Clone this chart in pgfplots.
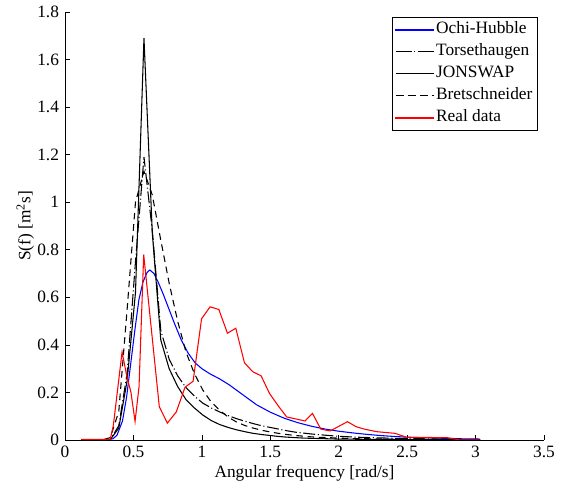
\documentclass[border=0pt]{standalone}
\usepackage{fontspec}
\setmainfont{Liberation Serif}
\usepackage{pgfplots}
\pgfplotsset{compat=1.18}
\begin{document}
\fontsize{13}{15}\selectfont
\begin{tikzpicture}
\begin{axis}[
  name=ax,
  scale only axis, width=359.25pt, height=321pt,
  xmin=0, xmax=3.5, ymin=0, ymax=1.8,
  axis lines=left, axis line style={-, line width=0.5pt},
  tick align=inside, major tick length=3.5pt,
  tick style={line width=0.5pt, black},
  xtick={0,0.5,1,1.5,2,2.5,3,3.5},
  ytick={0,0.2,0.4,0.6,0.8,1,1.2,1.4,1.6,1.8},
  /pgf/number format/assume math mode=true,
  /pgf/number format/fixed, /pgf/number format/precision=1,
  xlabel={Angular frequency [rad/s]},
  ylabel={S(f) [m\textsuperscript{2}s]},
  xlabel style={at={([yshift=-28pt]axis description cs:0.5,0)}, anchor=base, inner sep=0pt},
  ylabel style={at={([xshift=-23pt]axis description cs:0,0.5)}, anchor=south, inner sep=0pt},
  legend style={at={(rel axis cs:1,1)}, anchor=north east, xshift=-5pt, yshift=-3.75pt,
    inner xsep=2pt, inner ysep=1pt, row sep=0pt,
    nodes={inner sep=1.5pt, text height=10pt, text depth=3.5pt}},
  legend cell align=left,
  every axis plot/.append style={line width=0.8pt},
]
% Ochi-Hubble
\addplot[blue, legend image code/.code={\fill[fill=blue] (0pt,-0.28pt) rectangle (28.5pt,0.28pt);}] coordinates {
(0.12,0) (0.30,0) (0.35,0.005) (0.38,0.02) (0.42,0.08) (0.45,0.18) (0.48,0.32) (0.51,0.46)
(0.54,0.59) (0.57,0.665) (0.60,0.705) (0.62,0.715) (0.65,0.70) (0.68,0.665) (0.72,0.61)
(0.76,0.55) (0.80,0.49) (0.85,0.42) (0.90,0.365) (0.95,0.325) (1.00,0.30) (1.06,0.278)
(1.13,0.257) (1.20,0.232) (1.30,0.19) (1.40,0.148) (1.50,0.117) (1.60,0.092) (1.70,0.073)
(1.80,0.058) (1.90,0.046) (2.00,0.037) (2.10,0.030) (2.20,0.024) (2.30,0.019) (2.40,0.015)
(2.50,0.012) (2.60,0.010) (2.70,0.008) (2.80,0.007) (2.90,0.005) (3.03,0.004)};
\addlegendentry{Ochi-Hubble}
% Torsethaugen
\addplot[black, dash pattern=on 9pt off 2pt on 0.8pt off 2pt, legend image code/.code={\draw[black, line width=0.8pt, dash pattern=on 12pt off 2pt on 0.8pt off 2pt] (0pt,0pt) -- (28.5pt,0pt);}] coordinates {
(0.12,0) (0.27,0) (0.331,0.002) (0.393,0.06) (0.454,0.28) (0.515,0.75) (0.577,1.19)
(0.638,0.88) (0.700,0.46) (0.761,0.34) (0.823,0.27) (0.884,0.22) (0.945,0.185) (1.007,0.155)
(1.068,0.135) (1.130,0.118) (1.191,0.103) (1.252,0.09) (1.314,0.079) (1.375,0.069)
(1.437,0.06) (1.498,0.053) (1.559,0.046) (1.621,0.039) (1.682,0.033) (1.744,0.029)
(1.805,0.025) (1.866,0.022) (1.928,0.019) (1.989,0.016) (2.051,0.014) (2.173,0.011)
(2.296,0.009) (2.419,0.007) (2.542,0.006) (2.726,0.004) (2.910,0.003) (3.033,0.003)};
\addlegendentry{Torsethaugen}
% JONSWAP
\addplot[black, legend image code/.code={\draw[black, line width=0.8pt] (0pt,0pt) -- (28.5pt,0pt);}] coordinates {
(0.12,0) (0.27,0) (0.331,0.002) (0.393,0.05) (0.454,0.25) (0.515,0.62) (0.577,1.69)
(0.638,0.87) (0.700,0.42) (0.761,0.30) (0.823,0.225) (0.884,0.17) (0.945,0.135) (1.007,0.105)
(1.068,0.082) (1.130,0.065) (1.191,0.053) (1.252,0.043) (1.314,0.035) (1.375,0.028)
(1.437,0.023) (1.498,0.019) (1.559,0.015) (1.621,0.012) (1.682,0.010) (1.744,0.008)
(1.805,0.007) (1.866,0.006) (1.989,0.004) (2.173,0.003) (2.419,0.002) (2.726,0.001) (3.033,0.001)};
\addlegendentry{JONSWAP}
% Bretschneider
\addplot[black, dash pattern=on 5pt off 3.5pt, legend image code/.code={\draw[black, line width=0.8pt, dash pattern=on 6pt off 3pt] (0pt,0pt) -- (28.5pt,0pt);}] coordinates {
(0.12,0) (0.27,0) (0.331,0.01) (0.393,0.12) (0.454,0.55) (0.515,1.0) (0.577,1.13)
(0.638,1.03) (0.700,0.84) (0.761,0.66) (0.823,0.50) (0.884,0.37) (0.945,0.28) (1.007,0.21)
(1.068,0.16) (1.130,0.125) (1.191,0.097) (1.252,0.076) (1.314,0.061) (1.375,0.05)
(1.437,0.041) (1.498,0.034) (1.559,0.028) (1.621,0.023) (1.682,0.019) (1.744,0.016)
(1.805,0.013) (1.866,0.011) (1.928,0.010) (1.989,0.008) (2.112,0.006) (2.235,0.005)
(2.419,0.003) (2.603,0.002) (2.849,0.001) (3.033,0.001)};
\addlegendentry{Bretschneider}
% Real data
\addplot[red, legend image code/.code={\fill[fill=red] (0pt,-0.28pt) rectangle (28.5pt,0.28pt);}] coordinates {
(0.12,0.002) (0.33,0.002) (0.353,0.06) (0.417,0.37) (0.451,0.27) (0.482,0.20) (0.512,0.078)
(0.541,0.224) (0.575,0.78) (0.689,0.14) (0.748,0.071) (0.813,0.118) (0.877,0.222)
(0.936,0.247) (0.998,0.51) (1.06,0.56) (1.124,0.549) (1.187,0.449) (1.248,0.47)
(1.311,0.325) (1.372,0.287) (1.433,0.27) (1.494,0.196) (1.56,0.142) (1.62,0.097)
(1.754,0.08) (1.808,0.112) (1.869,0.046) (1.937,0.038) (2.064,0.077) (2.127,0.056)
(2.193,0.045) (2.278,0.035) (2.412,0.028) (2.498,0.011) (2.79,0.01) (2.887,0) (3.03,0)};
\addlegendentry{Real data}
\end{axis}
\pgfresetboundingbox
\path (ax.south west) ++(-48.75pt,-33.75pt) rectangle ++(423pt,363.75pt);
\end{tikzpicture}
\end{document}
